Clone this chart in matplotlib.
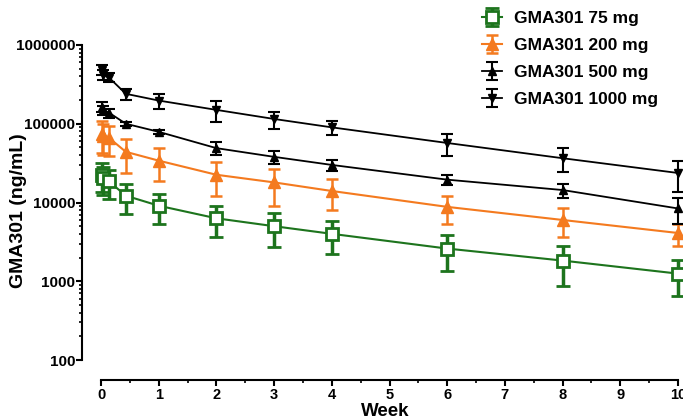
import numpy as np
import matplotlib.pyplot as plt
from matplotlib.ticker import FuncFormatter, LogLocator, NullFormatter, MultipleLocator

plt.rcParams['font.family'] = ['Liberation Sans', 'DejaVu Sans']
plt.rcParams['font.weight'] = 'bold'

# Semanas de muestreo
semanas = [0.01, 0.04, 0.14, 0.43, 1, 2, 3, 4, 6, 8, 10]

# Concentraciones medias y DE (ng/mL)
c75 = [22500, 20500, 18500, 12200, 9100, 6300, 5000, 4000, 2600, 1830, 1250]
de75 = [9000, 8000, 7500, 5000, 3800, 2700, 2300, 1800, 1250, 950, 600]
c200 = [75000, 70000, 66000, 44000, 34000, 22500, 18000, 14000, 8800, 6000, 4100]
de200 = [33000, 30000, 27000, 20000, 15000, 10500, 9000, 6000, 3400, 2400, 1300]
c500 = [165000, 150000, 138000, 100000, 79000, 49000, 38000, 30000, 19500, 14400, 8400]
de500 = [25000, 20000, 18000, 6000, 5000, 9000, 7000, 5000, 3000, 3000, 3000]
c1000 = [480000, 420000, 385000, 240000, 197000, 150000, 115000, 90000, 57000, 36500, 23700]
de1000 = [70000, 60000, 50000, 40000, 42000, 45000, 28000, 18000, 18000, 12000, 10000]

etiquetas = ['GMA301 75 mg', 'GMA301 200 mg', 'GMA301 500 mg', 'GMA301 1000 mg']

fig = plt.figure(figsize=(6.83, 4.2), dpi=100)
ax = fig.add_axes([101/683, 60/420, 577/683, 315/420])

verde = '#1d741d'
naranja = '#f47a1f'

h75 = ax.errorbar(semanas, c75, yerr=de75, color=verde, marker='s', ms=9, mfc='white',
                  mec=verde, mew=2, lw=1.5, elinewidth=2.5, capsize=5, capthick=2.5,
                  clip_on=False, label=etiquetas[0])
h200 = ax.errorbar(semanas, c200, yerr=de200, color=naranja, marker='^', ms=8,
                   lw=1.5, elinewidth=1.8, capsize=4, capthick=1.8,
                   clip_on=False, label=etiquetas[1])
h500 = ax.errorbar(semanas, c500, yerr=de500, color='black', marker='^', ms=6,
                   lw=1.3, elinewidth=1.5, capsize=4, capthick=1.5,
                   clip_on=False, label=etiquetas[2])
h1000 = ax.errorbar(semanas, c1000, yerr=de1000, color='black', marker='v', ms=6,
                    lw=1.3, elinewidth=1.5, capsize=4, capthick=1.5,
                    clip_on=False, label=etiquetas[3])

ax.set_yscale('log')
ax.set_ylim(100, 1e6)
ax.set_xlim(0, 10)
ax.yaxis.set_major_locator(LogLocator(base=10, numticks=10))
ax.yaxis.set_minor_locator(LogLocator(base=10, subs=np.arange(2, 10), numticks=10))
ax.yaxis.set_major_formatter(FuncFormatter(lambda v, _: f'{v:.0f}'))
ax.yaxis.set_minor_formatter(NullFormatter())
ax.xaxis.set_major_locator(MultipleLocator(1))
ax.xaxis.set_minor_locator(MultipleLocator(0.5))

for s in ['top', 'right']:
    ax.spines[s].set_visible(False)
# desplazamiento en puntos (19 px y 20 px)
ax.spines['left'].set_position(('outward', 13.7))
ax.spines['bottom'].set_position(('outward', 14.4))
ax.spines['left'].set_linewidth(1.5)
ax.spines['bottom'].set_linewidth(1.5)
ax.tick_params(which='major', length=4, width=1.5)
ax.tick_params(axis='y', which='major', labelsize=11, pad=1)
ax.tick_params(axis='x', which='major', labelsize=10.5, pad=1.5)
ax.tick_params(which='minor', length=2.5, width=1.2)

ax.set_xlabel('Week', fontsize=13.5, fontweight='bold')
ax.xaxis.set_label_coords(0.492, -0.136)
ax.set_ylabel('GMA301 (ng/mL)', fontsize=14, fontweight='bold')
ax.yaxis.set_label_coords(-0.128, 0.473)

fig.legend(handles=[h75, h200, h500, h1000], labels=etiquetas, loc='upper left',
           bbox_to_anchor=(482/683, 1 - 11/420), frameon=False, borderpad=0,
           borderaxespad=0, labelspacing=0.68, handlelength=1.15,
           handletextpad=0.7, prop={'weight': 'bold', 'size': 12.5})

fig.savefig('out.png', dpi=100)
